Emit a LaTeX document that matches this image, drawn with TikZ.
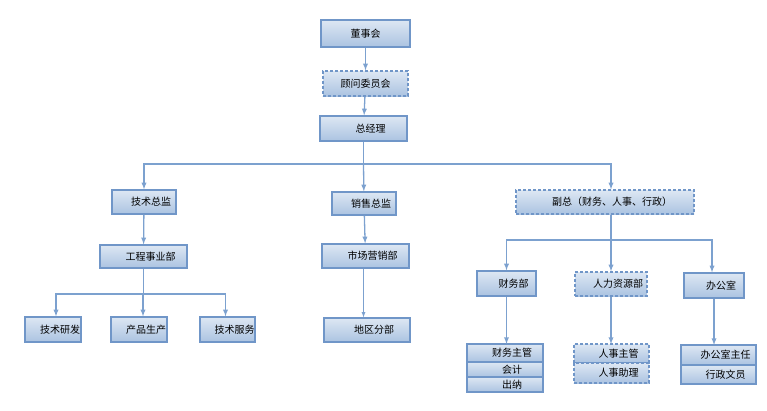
\documentclass[tikz,border=0pt]{standalone}
\usepackage{fontspec}
\setmainfont{Noto Sans CJK SC}
\usetikzlibrary{positioning}
\definecolor{boxline}{HTML}{7096C8}
\definecolor{boxtop}{HTML}{DDE7F3}
\definecolor{boxbot}{HTML}{ABC3E1}
\definecolor{wire}{HTML}{7CA1CF}

\begin{document}
\begin{tikzpicture}[x=1pt, y=-1pt, >=latex,
    box/.style={draw=boxline, line width=1.3pt, top color=boxtop, bottom color=boxbot,
      inner sep=0pt, font=\fontsize{10}{12}\selectfont},
    dbox/.style={box, dashed, dash pattern=on 3pt off 2pt},
    sh/.style={execute at begin node=\hspace*{14pt}},
    row/.style={box, sh, outer sep=0pt, minimum width=#1},
    conn/.style={draw=wire, line width=1.3pt},
    arr/.style={conn, ->}]
    \useasboundingbox (0,0) rectangle (767,410);
    % Top
    \node[box, minimum width=89pt, minimum height=27pt] (dsh) at (365.5,33.5) {董事会};
    \node[dbox, minimum width=85pt, minimum height=25pt] (gwwy) at (365.5,83.5) {顾问委员会};
    \node[box, sh, minimum width=87pt, minimum height=25pt] (zjl) at (363.5,128.5) {总经理};
    % Second level
    \node[box, sh, minimum width=64pt, minimum height=24pt] (jszj) at (144,202) {技术总监};
    \node[box, sh, minimum width=64pt, minimum height=23pt] (xszj) at (364,203.5) {销售总监};
    \node[dbox, sh, minimum width=178pt, minimum height=24pt] (fz) at (605,202) {副总（财务、人事、行政）};
    % Departments
    \node[box, sh, minimum width=87pt, minimum height=23pt] (gcsy) at (143.5,256.5) {工程事业部};
    \node[box, sh, minimum width=87pt, minimum height=24pt] (scyx) at (365.5,256) {市场营销部};
    \node[box, sh, minimum width=59pt, minimum height=25pt] (cwb) at (506.5,283.5) {财务部};
    \node[dbox, sh, minimum width=72pt, minimum height=24pt] (rlzy) at (611,284) {人力资源部};
    \node[box, sh, minimum width=60pt, minimum height=25pt] (bgs) at (714,285.5) {办公室};
    % Bottom
    \node[box, sh, minimum width=56pt, minimum height=25pt] (jsyf) at (53,329.5) {技术研发};
    \node[box, sh, minimum width=56pt, minimum height=25pt] (cpsc) at (139,329.5) {产品生产};
    \node[box, sh, minimum width=55pt, minimum height=25pt] (jsfw) at (227.5,329.5) {技术服务};
    \node[box, sh, minimum width=86pt, minimum height=24pt] (dqfb) at (367,330) {地区分部};
    % Stacks
    \node[row=76pt, minimum height=18pt, anchor=north] (cw1) at (505,344) {财务主管};
    \node[row=76pt, minimum height=15pt, below=0pt of cw1] (cw2) {会计};
    \node[row=76pt, minimum height=15pt, below=0pt of cw2] (cw3) {出纳};
    \node[row=75pt, dashed, dash pattern=on 3pt off 2pt, minimum height=19pt, anchor=north] (rs1) at (611.5,344) {人事主管};
    \node[row=75pt, dashed, dash pattern=on 3pt off 2pt, minimum height=20pt, below=0pt of rs1] (rs2) {人事助理};
    \node[row=75pt, minimum height=20pt, anchor=north] (bg1) at (718.5,345) {办公室主任};
    \node[row=75pt, minimum height=19pt, below=0pt of bg1] (bg2) {行政文员};
    % Connectors
    \draw[arr] (dsh) -- (gwwy);
    \draw[arr] (gwwy) -- (zjl);
    \coordinate (zbar) at (zjl.south |- 0,164);
    \draw[conn] (zjl) -- (zbar);
    \draw[arr] (zbar) -| (jszj);
    \draw[arr] (zbar) -| ([xshift=6pt]fz.north);
    \draw[arr] (zbar) -- (xszj);
    \draw[arr] (jszj) -- (gcsy);
    \draw[arr] (xszj) -- (scyx);
    \draw[arr, line width=0.8pt] ([xshift=-2pt]scyx.south) -- ([xshift=-2pt]scyx.south |- dqfb.north);
    \coordinate (gbar) at (gcsy.south |- 0,294);
    \draw[conn] (gcsy) -- (gbar);
    \draw[arr] (gbar) -| ([xshift=3pt]jsyf.north);
    \draw[arr] (gbar) -| ([xshift=4pt]cpsc.north);
    \draw[arr] (gbar) -| ([xshift=-2pt]jsfw.north);
    \coordinate (fbar) at ([xshift=6pt]fz.south |- 0,240);
    \draw[conn] ([xshift=6pt]fz.south) -- (fbar);
    \draw[arr] (fbar) -| (cwb);
    \draw[arr] (fbar) -| (rlzy);
    \draw[arr] (fbar) -| ([xshift=-2pt]bgs.north);
    \draw[arr] (cwb) -- (cwb |- cw1.north);
    \draw[arr] (rlzy) -- (rlzy |- rs1.north);
    \draw[arr] (bgs) -- (bgs |- bg1.north);
\end{tikzpicture}
\end{document}
